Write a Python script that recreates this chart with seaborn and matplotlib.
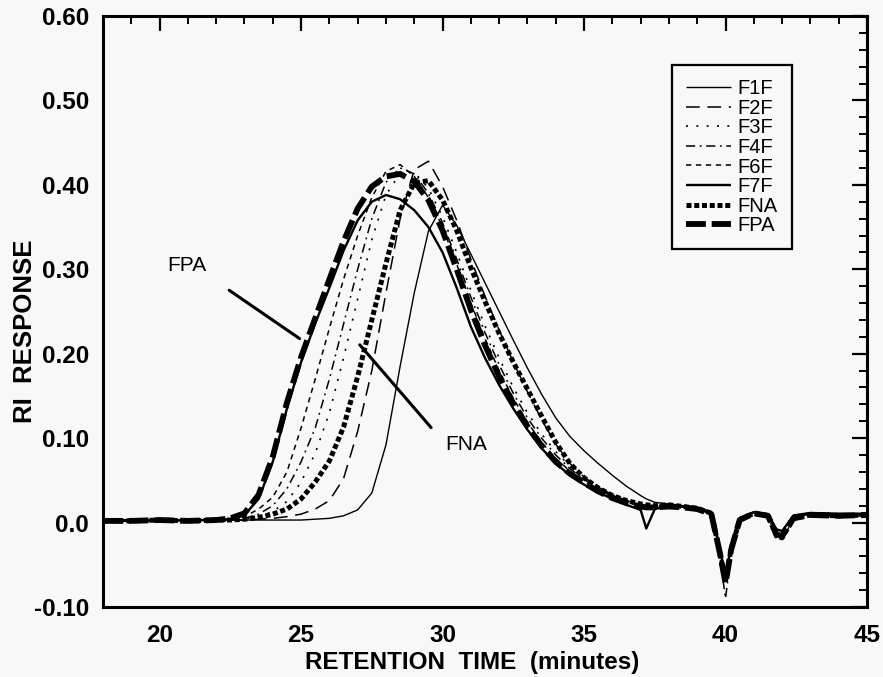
import numpy as np
import pandas as pd
import matplotlib
matplotlib.use("Agg")
import matplotlib.pyplot as plt
import seaborn as sns

# Retention time grid (minutes) shared by all fractions
time_min = [18, 19, 20, 21, 22, 22.5, 23, 23.5, 24, 24.5, 25, 25.5, 26, 26.5, 27, 27.5,
            28, 28.5, 29, 29.5, 30, 30.5, 31, 31.5, 32, 32.5, 33, 33.5, 34, 34.5, 35, 35.5,
            36, 36.5, 37, 37.2, 37.5, 38, 38.5, 39, 39.5, 39.8, 40.0, 40.2, 40.5, 41, 41.5,
            41.8, 42.0, 42.4, 43, 44, 45]

# RI detector response for each fraction
f1f = [0.002, 0.002, 0.003, 0.002, 0.003, 0.003, 0.003, 0.003, 0.003, 0.003, 0.003, 0.004,
       0.005, 0.008, 0.015, 0.035, 0.092, 0.185, 0.272, 0.345, 0.376, 0.352, 0.318, 0.284,
       0.250, 0.216, 0.183, 0.152, 0.124, 0.102, 0.085, 0.070, 0.056, 0.043, 0.032, 0.028,
       0.024, 0.022, 0.020, 0.018, 0.013, -0.028, -0.060, -0.026, 0.006, 0.013, 0.010,
       -0.008, -0.010, 0.009, 0.012, 0.011, 0.011]
f2f = [0.002, 0.003, 0.002, 0.003, 0.002, 0.003, 0.003, 0.004, 0.005, 0.007, 0.010, 0.016,
       0.026, 0.052, 0.108, 0.180, 0.272, 0.360, 0.418, 0.428, 0.398, 0.358, 0.312, 0.268,
       0.228, 0.190, 0.155, 0.122, 0.093, 0.070, 0.054, 0.042, 0.033, 0.026, 0.021, 0.020,
       0.019, 0.020, 0.019, 0.017, 0.012, -0.026, -0.058, -0.025, 0.005, 0.012, 0.009,
       -0.012, -0.014, 0.008, 0.010, 0.009, 0.010]
f3f = [0.002, 0.002, 0.003, 0.002, 0.003, 0.003, 0.004, 0.007, 0.013, 0.025, 0.048, 0.082,
       0.130, 0.195, 0.265, 0.335, 0.388, 0.414, 0.415, 0.396, 0.362, 0.320, 0.275, 0.233,
       0.195, 0.160, 0.130, 0.105, 0.084, 0.067, 0.053, 0.042, 0.033, 0.026, 0.021, 0.020,
       0.019, 0.020, 0.018, 0.016, 0.011, -0.032, -0.066, -0.029, 0.004, 0.011, 0.008,
       -0.014, -0.016, 0.006, 0.009, 0.008, 0.009]
f4f = [0.002, 0.003, 0.002, 0.003, 0.003, 0.003, 0.005, 0.010, 0.020, 0.040, 0.072, 0.112,
       0.170, 0.235, 0.300, 0.360, 0.403, 0.420, 0.413, 0.390, 0.355, 0.312, 0.267, 0.225,
       0.187, 0.153, 0.124, 0.100, 0.080, 0.064, 0.051, 0.041, 0.032, 0.025, 0.020, 0.019,
       0.019, 0.021, 0.019, 0.016, 0.010, -0.040, -0.090, -0.035, 0.002, 0.010, 0.007,
       -0.018, -0.020, 0.004, 0.008, 0.007, 0.008]
f6f = [0.002, 0.002, 0.003, 0.002, 0.003, 0.004, 0.007, 0.016, 0.030, 0.060, 0.112, 0.170,
       0.230, 0.288, 0.340, 0.385, 0.416, 0.424, 0.410, 0.385, 0.350, 0.306, 0.260, 0.218,
       0.180, 0.147, 0.119, 0.095, 0.076, 0.061, 0.049, 0.039, 0.031, 0.024, 0.020, 0.019,
       0.018, 0.019, 0.018, 0.016, 0.011, -0.034, -0.068, -0.030, 0.004, 0.011, 0.009,
       -0.012, -0.015, 0.006, 0.010, 0.009, 0.010]
f7f = [0.002, 0.003, 0.002, 0.003, 0.003, 0.004, 0.009, 0.028, 0.072, 0.135, 0.190, 0.236,
       0.278, 0.322, 0.358, 0.380, 0.388, 0.383, 0.370, 0.350, 0.320, 0.278, 0.232, 0.195,
       0.163, 0.135, 0.110, 0.088, 0.070, 0.056, 0.045, 0.036, 0.028, 0.021, 0.015, -0.007,
       0.016, 0.020, 0.019, 0.017, 0.012, -0.033, -0.064, -0.028, 0.004, 0.012, 0.010,
       -0.008, -0.010, 0.008, 0.011, 0.010, 0.010]
fna = [0.002, 0.002, 0.003, 0.002, 0.003, 0.003, 0.004, 0.006, 0.010, 0.016, 0.028, 0.048,
       0.073, 0.113, 0.173, 0.240, 0.307, 0.370, 0.402, 0.405, 0.382, 0.346, 0.302, 0.262,
       0.224, 0.190, 0.158, 0.126, 0.095, 0.070, 0.053, 0.041, 0.032, 0.026, 0.022, 0.021,
       0.020, 0.021, 0.019, 0.017, 0.011, -0.036, -0.070, -0.031, 0.003, 0.011, 0.008,
       -0.016, -0.018, 0.005, 0.009, 0.008, 0.009]
fpa = [0.002, 0.002, 0.003, 0.002, 0.003, 0.005, 0.011, 0.033, 0.078, 0.142, 0.196, 0.242,
       0.288, 0.333, 0.372, 0.398, 0.410, 0.413, 0.404, 0.382, 0.346, 0.300, 0.252, 0.210,
       0.173, 0.141, 0.114, 0.091, 0.072, 0.058, 0.047, 0.037, 0.029, 0.023, 0.019, 0.018,
       0.018, 0.019, 0.018, 0.016, 0.010, -0.036, -0.072, -0.032, 0.003, 0.011, 0.008,
       -0.014, -0.016, 0.005, 0.009, 0.008, 0.009]

labels = ["F1F", "F2F", "F3F", "F4F", "F6F", "F7F", "FNA", "FPA"]
series = [f1f, f2f, f3f, f4f, f6f, f7f, fna, fpa]

y_ticks = [-0.10, 0.0, 0.10, 0.20, 0.30, 0.40, 0.50, 0.60]
y_tick_labels = ["-0.10", "0.0", "0.10", "0.20", "0.30", "0.40", "0.50", "0.60"]
x_ticks = [20, 25, 30, 35, 40, 45]

# line appearance per fraction: (linewidth, dash pattern)
styles = {
    "F1F": (1.0, "solid"),
    "F2F": (1.1, (0, (9, 5))),
    "F3F": (1.2, (0, (1.2, 5))),
    "F4F": (1.1, (0, (6, 3, 1.2, 3))),
    "F6F": (1.1, (0, (3.5, 3))),
    "F7F": (1.7, "solid"),
    "FNA": (3.6, (0, (1.0, 0.55))),
    "FPA": (4.2, (0, (3.4, 1.0))),
}

df = pd.DataFrame({"time": np.tile(time_min, len(labels)),
                   "response": np.concatenate(series),
                   "fraction": np.repeat(labels, len(time_min))})

sns.set_theme(style="white")
plt.rcParams["font.family"] = ["Liberation Sans", "DejaVu Sans"]
plt.rcParams["text.color"] = "black"
plt.rcParams["xtick.color"] = "black"
plt.rcParams["ytick.color"] = "black"
plt.rcParams["axes.labelcolor"] = "black"

bg = "#f8f8f8"
fig = plt.figure(figsize=(8.83, 6.77), dpi=100, facecolor=bg)
ax = fig.add_axes([103 / 883, 1 - 607 / 677, 764 / 883, 591 / 677])
ax.set_facecolor(bg)

for name in labels:
    lw, ls = styles[name]
    sub = df[df["fraction"] == name]
    sns.lineplot(data=sub, x="time", y="response", ax=ax, color="black",
                 linewidth=lw, linestyle=ls, label=name, sort=False,
                 estimator=None, solid_capstyle="butt", dash_capstyle="butt")

ax.set_xlim(18, 45)
ax.set_ylim(-0.10, 0.60)
ax.set_xticks(x_ticks)
ax.set_xticklabels([str(t) for t in x_ticks], fontweight="bold", fontsize=17.5)
ax.set_yticks(y_ticks)
ax.set_yticklabels(y_tick_labels, fontweight="bold", fontsize=17.5)
ax.set_xticks(np.arange(18, 46, 1), minor=True)
ax.set_yticks(np.arange(-0.10, 0.601, 0.02), minor=True)
ax.tick_params(which="both", direction="in", top=True, right=True,
               color="black", labelcolor="black")
ax.tick_params(which="major", length=11, width=1.6)
ax.tick_params(axis="y", which="major", pad=10)
ax.tick_params(axis="x", which="major", pad=12)
ax.tick_params(which="minor", length=6, width=1.4)
for sp in ax.spines.values():
    sp.set_color("black")
    sp.set_linewidth(2.2)

ax.set_xlabel("RETENTION  TIME  (minutes)", fontweight="bold", fontsize=17.5)
ax.set_ylabel("RI  RESPONSE", fontweight="bold", fontsize=18.5)
ax.xaxis.set_label_coords((472 - 103) / 764, -0.075)
ax.yaxis.set_label_coords((37 - 103) / 764, (607 - 331) / 591)

# labelled guide lines pointing at the two whole-oil curves
ax.annotate("", xy=(25.03, 0.216), xytext=(22.38, 0.277),
            arrowprops=dict(arrowstyle="-", lw=2.2, color="black"))
ax.text(20.97, 0.305, "FPA", fontsize=15, ha="center", va="center")
ax.annotate("", xy=(29.66, 0.110), xytext=(27.01, 0.213),
            arrowprops=dict(arrowstyle="-", lw=2.2, color="black"))
ax.text(30.83, 0.092, "FNA", fontsize=15, ha="center", va="center")

leg = ax.legend(loc="upper right", bbox_to_anchor=((792 - 103) / 764, (607 - 65) / 591),
                frameon=True, fancybox=False, fontsize=14.5, handlelength=2.2,
                handletextpad=0.35, labelspacing=0.03, borderpad=0.7,
                borderaxespad=0)
leg.get_frame().set_edgecolor("black")
leg.get_frame().set_linewidth(1.6)
leg.get_frame().set_facecolor(bg)
leg.get_frame().set_alpha(1)
for t in leg.get_texts():
    t.set_color("black")

fig.savefig("out.png", dpi=100, facecolor=fig.get_facecolor())
